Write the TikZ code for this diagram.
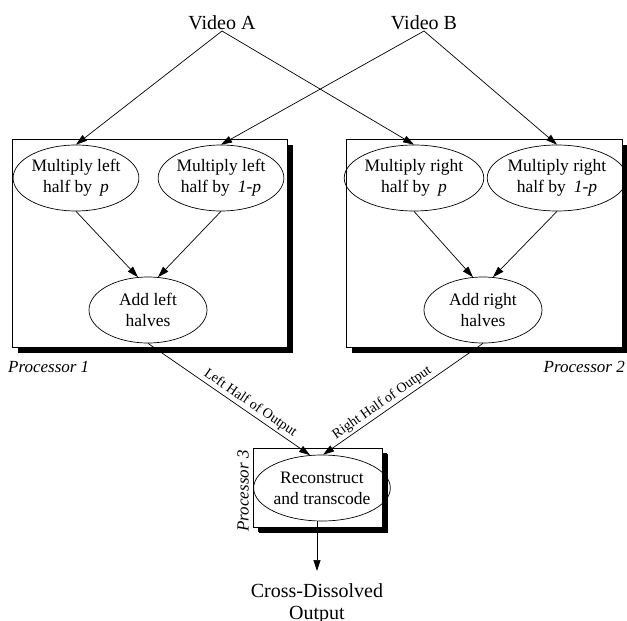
\documentclass[tikz,border=0pt]{standalone}
\usepackage{fontspec}
\setmainfont{Liberation Serif}
\usetikzlibrary{shapes.geometric,arrows.meta,shadows}
\begin{document}
\begin{tikzpicture}[x=1pt,y=-1pt,
  op/.style={ellipse,draw,line width=0.7pt,minimum width=118pt,minimum height=66pt,
    inner sep=0pt,align=center,font=\fontsize{17.5}{21}\selectfont},
  procbox/.style={draw,line width=0.7pt,fill=white,inner sep=0pt,
    drop shadow={fill=black,opacity=1,shadow xshift=6pt,shadow yshift=-6pt}},
  flow/.style={line width=0.7pt,-{Triangle[length=11pt,width=7pt]}},
  src/.style={inner sep=1pt,font=\fontsize{20}{22}\selectfont,align=center},
  plabel/.style={font=\fontsize{17}{20}\selectfont\itshape,inner sep=0pt},
  elabel/.style={font=\fontsize{14}{16}\selectfont,sloped,above,inner sep=2pt,pos=0.6}]
\useasboundingbox (0,0) rectangle (627,621);

% processor frames
\node[procbox,minimum width=275pt,minimum height=208pt] (box1) at (149.5,243) {};
\node[procbox,minimum width=276pt,minimum height=208pt] (box2) at (484,243) {};
\node[procbox,minimum width=129pt,minimum height=79pt,
  drop shadow={fill=black,opacity=1,shadow xshift=5pt,shadow yshift=-5pt}] (box3) at (317.5,487.5) {};

% inputs
\node[src,anchor=south] (va) at (222,31) {Video A};
\node[src,anchor=south] (vb) at (424,31) {Video B};

% operations
\node[op] (l1) at (76,178) {Multiply left\\half by\hspace{0.45em}\textit{p}};
\node[op] (l2) at (221,178) {Multiply left\\half by\hspace{0.45em}\textit{1-p}};
\node[op] (al) at (148,310) {Add left\\halves};
\node[op] (r1) at (414,178) {Multiply right\\half by\hspace{0.45em}\textit{p}};
\node[op] (r2) at (557,178) {Multiply right\\half by\hspace{0.45em}\textit{1-p}};
\node[op] (ar) at (483,310) {Add right\\halves};
\node[op] (rc) at (322,488) {Reconstruct\\and transcode};

% output
\node[src,anchor=north,inner ysep=12pt] (out) at (317,571) {Cross-Dissolved\\Output};

% processor labels
\node[plabel,anchor=base west] (pl1) at (8,372) {Processor 1};
\node[plabel,anchor=base east] (pl2) at (625,372) {Processor 2};
\node[plabel,rotate=90] (pl3) at (243,491) {Processor 3};

% connectors
\draw[flow] (va.south) -- (l1.north);
\draw[flow] (va.south) -- (r1.north);
\draw[flow] (vb.south) -- (l2.north);
\draw[flow] (vb.south) -- (r2.north);
\draw[flow] (l1.south) -- (al.107);
\draw[flow] (l2.south) -- (al.73);
\draw[flow] (r1.south) -- (ar.107);
\draw[flow] (r2.south) -- (ar.73);
\draw[flow] (al.south) -- node[elabel] {Left Half of Output} (rc.110);
\draw[flow] (ar.south) -- node[elabel] {Right Half of Output} (rc.88);
\draw[flow] (rc.south -| out.north) -- (out.north);
\end{tikzpicture}
\end{document}
